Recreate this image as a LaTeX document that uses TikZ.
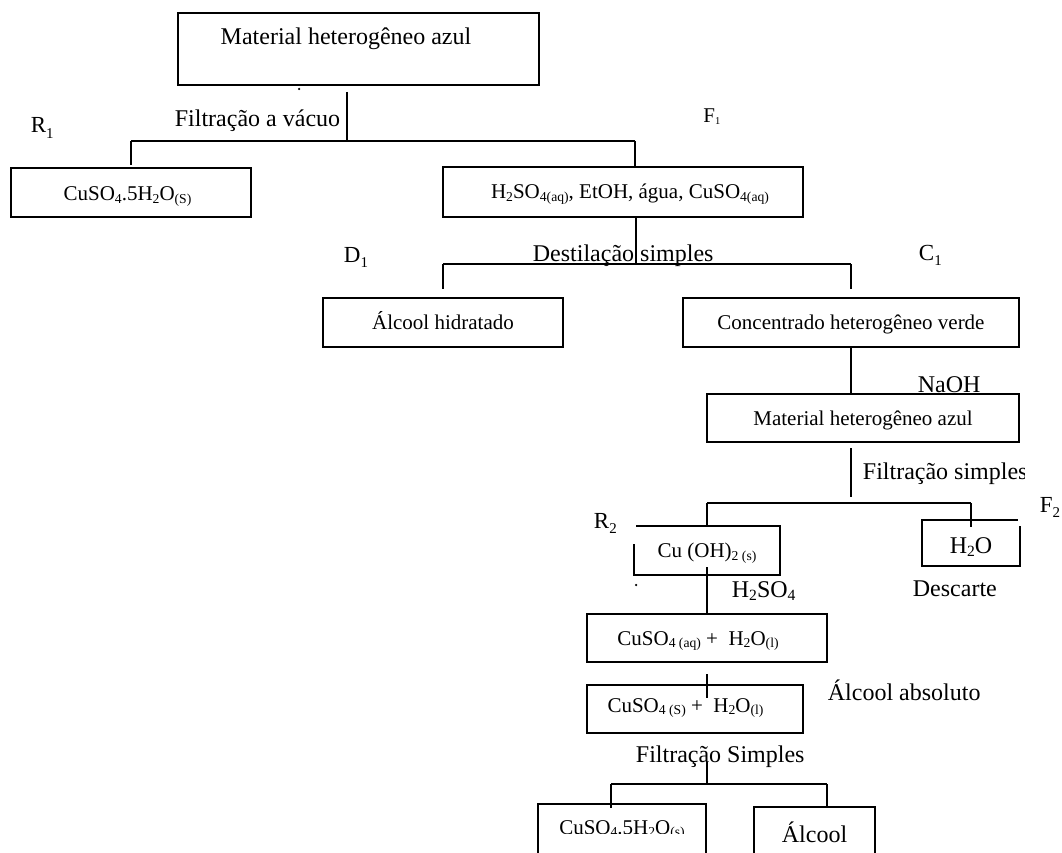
\documentclass[tikz,border=0pt]{standalone}
\usepackage{fontspec}
\setmainfont{Liberation Serif}
\usepackage{graphicx}
\newcommand\csub[1]{\raisebox{-0.13em}{\scalebox{0.65}{#1}}}
\newcommand\lsub[1]{\raisebox{-0.25em}{\scalebox{0.65}{#1}}}
\newcommand\msub[1]{\raisebox{-0.15em}{\scalebox{0.65}{#1}}}
\newcommand\fsz[1]{\fontsize{#1}{#1}\selectfont}
\begin{document}
\begin{tikzpicture}[x=1pt,y=-1pt,line width=1.8pt,
  box/.style={draw,rectangle,inner sep=0pt,font=\fsz{21},text height=18pt,text depth=4pt},
  openbox/.style={rectangle,inner sep=0pt,font=\fsz{21},text height=18pt,text depth=4pt},
  lab/.style={inner sep=0pt,anchor=base,font=\fsz{24}},
  labw/.style={inner sep=0pt,anchor=base west,font=\fsz{24}},
  dotmark/.style={circle,fill,inner sep=0pt,minimum size=2.5pt}]
\useasboundingbox (0,0) rectangle (1062,853);

% boxes
\node[box,minimum width=361pt,minimum height=72pt,font=\fsz{24},text height=17pt,text depth=25pt] (top) at (358.5,49) {Material heterogêneo azul\hspace*{25pt}};
\node[box,minimum width=240pt,minimum height=49pt,text height=19pt,text depth=3pt] (cus1) at (131,192.5) {CuSO\csub{4}.5H\csub{2}O\csub{(S)}\hspace*{7pt}};
\node[box,minimum width=360pt,minimum height=50pt] (mix) at (623,192) {\hspace*{14pt}H\csub{2}SO\csub{4(aq)}, EtOH, água, CuSO\csub{4(aq)}};
\node[box,minimum width=240pt,minimum height=49pt] (alc) at (443,322.5) {Álcool hidratado};
\node[box,minimum width=336pt,minimum height=49pt] (conc) at (851,322.5) {Concentrado heterogêneo verde};
\node[box,minimum width=312pt,minimum height=48pt] (mat2) at (863,418) {Material heterogêneo azul};
\node[openbox,minimum width=144pt,minimum height=47pt] (cuoh) at (707,550.5) {Cu (OH)\csub{2 (s)}};
\draw ([xshift=2pt]cuoh.north west) -- (cuoh.north east) -- (cuoh.south east) -- (cuoh.south west) -- ([yshift=-18pt]cuoh.north west);
\node[openbox,minimum width=96pt,minimum height=44pt,font=\fsz{24},text height=22pt,text depth=2pt] (h2o) at (971,543) {H\csub{2}O};
\draw ([xshift=-2pt]h2o.north east) -- (h2o.north west) -- (h2o.south west) -- (h2o.south east) -- ([yshift=-6pt]h2o.north east);
\node[box,minimum width=240pt,minimum height=48pt] (cusaq) at (707,638) {CuSO\csub{4 (aq)} +\ \ H\csub{2}O\csub{(l)}\hspace*{18pt}};
\node[box,minimum width=216pt,minimum height=48pt,text height=16pt,text depth=10pt] (cuss) at (695,709) {CuSO\csub{4 (S)} +\ \ H\csub{2}O\csub{(l)}\hspace*{19pt}};
\begin{scope}
  \clip (530,800) rectangle (712,833);
  \node[openbox,minimum width=166pt,minimum height=51pt,text height=16pt,text depth=9pt] (cus2) at (622,830.5) {CuSO\csub{4}.5H\csub{2}O\csub{(s)}};
\end{scope}
\draw (cus2.south west) -- (cus2.north west) -- (cus2.north east) -- (cus2.south east);
\node[openbox,minimum width=119pt,minimum height=48pt,font=\fsz{24},text height=22pt,text depth=2pt] (alcool) at (814.5,832) {Álcool};
\draw (alcool.south west) -- (alcool.north west) -- (alcool.north east) -- (alcool.south east);

% connectors level 1
\coordinate (t1) at (347,92);
\coordinate (j1) at (347,141);
\coordinate (l1) at (131,141);
\coordinate (r1) at (635,141);
\draw (t1) -- (j1);
\draw (l1) -- (r1);
\draw (l1) -- ++(0,24);
\draw (r1) -- (r1 |- mix.north);
% level 2
\coordinate (j2) at (636,264);
\coordinate (l2) at (443,264);
\coordinate (r2) at (851,264);
\draw (mix.south -| j2) -- (j2);
\draw (l2) -- (r2);
\draw (l2) -- ++(0,25);
\draw (r2) -- ++(0,25);
% level 3
\draw (conc.south) -- (conc.south |- mat2.north);
% level 4
\coordinate (t4) at (851,448);
\coordinate (j4) at (851,497);
\coordinate (l4) at (707,503);
\coordinate (r4) at (971,503);
\draw (t4) -- (j4);
\draw (l4) -- (r4);
\draw (l4) -- (l4 |- cuoh.north);
\draw (r4) -- ++(0,24);
% level 5
\coordinate (c5) at (707,567);
\draw (c5) -- (c5 |- cusaq.north);
% level 6
\coordinate (c6) at (707,674);
\draw (c6) -- ++(0,24);
% level 7
\coordinate (t7) at (707,762);
\coordinate (j7) at (707,784);
\coordinate (l7) at (611,784);
\coordinate (r7) at (827,784);
\draw (t7) -- (j7);
\draw (l7) -- (r7);
\draw (l7) -- ++(0,24);
\draw (r7) -- (r7 |- alcool.north);

% labels
\node[lab] (filt1) at (257.5,127) {Filtração a vácuo};
\node[labw,font=\fsz{23}] (R1) at (30,133) {R\lsub{1}};
\node[labw,font=\fsz{21}] (F1) at (702.5,123) {F\raisebox{-0.05em}{\scalebox{0.5}{1}}};
\node[labw,font=\fsz{23}] (D1) at (343,262) {D\lsub{1}};
\node[labw] (dest) at (532,261) {Destilação simples};
\node[labw,font=\fsz{23}] (C1) at (918,260) {C\lsub{1}};
\node[labw] (naoh) at (917,392) {NaOH};
\begin{scope}
  \clip (850,440) rectangle (1024,500);
  \node[labw] (filt2) at (862,479) {Filtração simples};
\end{scope}
\node[labw,font=\fsz{23}] (F2) at (1039,512) {F\lsub{2}};
\node[labw,font=\fsz{23}] (R2) at (593,528) {R\lsub{2}};
\node[labw] (h2so4) at (731,597) {H\msub{2}SO\msub{4}};
\node[labw] (desc) at (912,596) {Descarte};
\node[labw] (abs) at (827,700) {Álcool absoluto};
\node[labw] (filt3) at (635,762) {Filtração Simples};
\node[dotmark] (dot1) at (299,89) {};
\node[dotmark] (dot2) at (636,585) {};
\end{tikzpicture}
\end{document}
